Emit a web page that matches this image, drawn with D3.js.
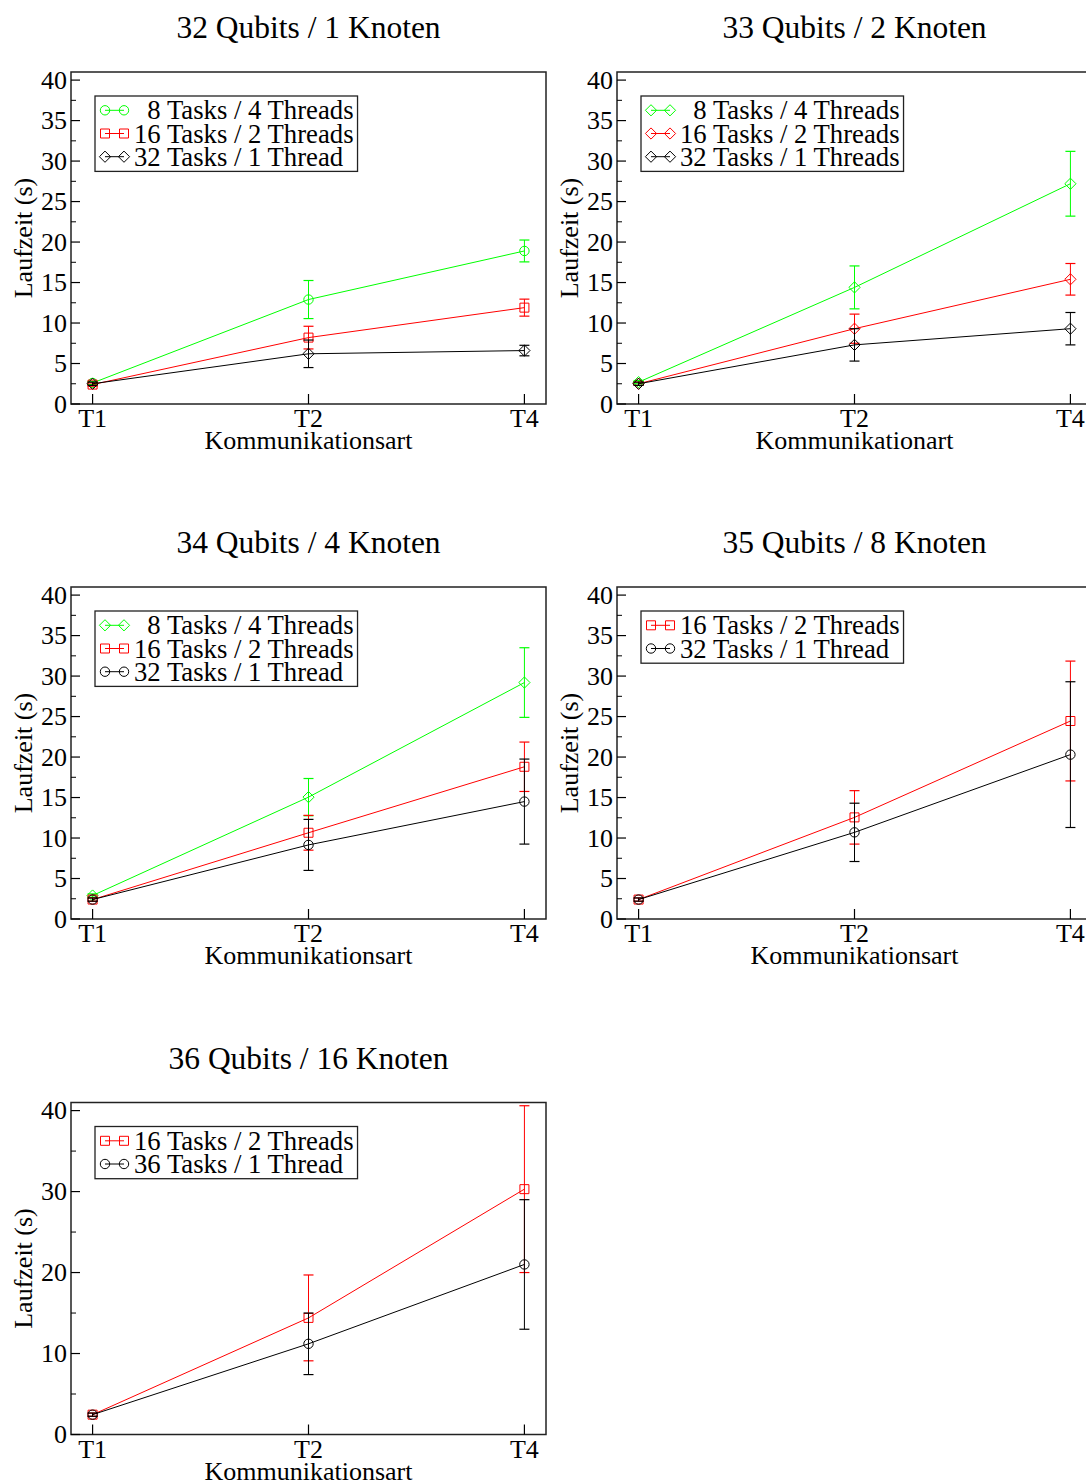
<!DOCTYPE html>
<html><head><meta charset="utf-8">
<script src="https://cdn.jsdelivr.net/npm/d3@7"></script>
<style>
body{margin:0;background:#fff}
svg{display:block}
text{font-family:"Liberation Serif","Times New Roman",serif;fill:#000}
</style>
</head><body><svg id="c" width="1086" height="1483"></svg>
<script>
// ---------- data ----------
const categories = ["T1", "T2", "T4"];
const panelTitles = ["32 Qubits / 1 Knoten", "33 Qubits / 2 Knoten", "34 Qubits / 4 Knoten", "35 Qubits / 8 Knoten", "36 Qubits / 16 Knoten"];
const xAxisTitles = ["Kommunikationsart", "Kommunikationart", "Kommunikationsart", "Kommunikationsart", "Kommunikationsart"];
const yAxisTitle = "Laufzeit (s)";
const yTicksBy5 = [0, 5, 10, 15, 20, 25, 30, 35, 40];
const yTicksBy10 = [0, 10, 20, 30, 40];

// Panel 1: 32 Qubits / 1 Knoten
const p1Labels = ["\u00a0\u00a08 Tasks / 4 Threads", "16 Tasks / 2 Threads", "32 Tasks / 1 Thread"];
const p1Green = [2.6, 12.9, 18.9];
const p1GreenErr = [0.2, 2.35, 1.35];
const p1Red = [2.4, 8.2, 11.9];
const p1RedErr = [0.2, 1.4, 1.05];
const p1Black = [2.5, 6.2, 6.6];
const p1BlackErr = [0.2, 1.7, 0.65];

// Panel 2: 33 Qubits / 2 Knoten
const p2Labels = ["\u00a0\u00a08 Tasks / 4 Threads", "16 Tasks / 2 Threads", "32 Tasks / 1 Threads"];
const p2Green = [2.7, 14.4, 27.2];
const p2GreenErr = [0.2, 2.65, 4.0];
const p2Red = [2.5, 9.3, 15.4];
const p2RedErr = [0.2, 1.8, 1.95];
const p2Black = [2.5, 7.3, 9.3];
const p2BlackErr = [0.2, 2.0, 2.0];

// Panel 3: 34 Qubits / 4 Knoten
const p3Labels = ["\u00a0\u00a08 Tasks / 4 Threads", "16 Tasks / 2 Threads", "32 Tasks / 1 Thread"];
const p3Green = [2.9, 15.05, 29.2];
const p3GreenErr = [0.2, 2.3, 4.3];
const p3Red = [2.4, 10.65, 18.8];
const p3RedErr = [0.2, 2.15, 3.05];
const p3Black = [2.4, 9.15, 14.5];
const p3BlackErr = [0.2, 3.15, 5.25];

// Panel 4: 35 Qubits / 8 Knoten
const p4Labels = ["16 Tasks / 2 Threads", "32 Tasks / 1 Thread"];
const p4Red = [2.4, 12.55, 24.45];
const p4RedErr = [0.2, 3.3, 7.4];
const p4Black = [2.4, 10.7, 20.3];
const p4BlackErr = [0.2, 3.6, 9.0];

// Panel 5: 36 Qubits / 16 Knoten
const p5Labels = ["16 Tasks / 2 Threads", "36 Tasks / 1 Thread"];
const p5Red = [2.45, 14.4, 30.3];
const p5RedErr = [0.2, 5.3, 10.3];
const p5Black = [2.45, 11.2, 21.0];
const p5BlackErr = [0.2, 3.8, 8.0];

// ---------- config built from data ----------
const GREEN = "#00ff00", RED = "#ff0000", BLACK = "#000000";
const panels = [
  {title: panelTitles[0], xt: xAxisTitles[0], ticks: yTicksBy5, minorStep: 2.5,
   series: [
     {name: p1Labels[0], v: p1Green, e: p1GreenErr, c: GREEN, s: "circle"},
     {name: p1Labels[1], v: p1Red, e: p1RedErr, c: RED, s: "square"},
     {name: p1Labels[2], v: p1Black, e: p1BlackErr, c: BLACK, s: "diamond"}]},
  {title: panelTitles[1], xt: xAxisTitles[1], ticks: yTicksBy5, minorStep: 2.5,
   series: [
     {name: p2Labels[0], v: p2Green, e: p2GreenErr, c: GREEN, s: "diamond"},
     {name: p2Labels[1], v: p2Red, e: p2RedErr, c: RED, s: "diamond"},
     {name: p2Labels[2], v: p2Black, e: p2BlackErr, c: BLACK, s: "diamond"}]},
  {title: panelTitles[2], xt: xAxisTitles[2], ticks: yTicksBy5, minorStep: 2.5,
   series: [
     {name: p3Labels[0], v: p3Green, e: p3GreenErr, c: GREEN, s: "diamond"},
     {name: p3Labels[1], v: p3Red, e: p3RedErr, c: RED, s: "square"},
     {name: p3Labels[2], v: p3Black, e: p3BlackErr, c: BLACK, s: "circle"}]},
  {title: panelTitles[3], xt: xAxisTitles[3], ticks: yTicksBy5, minorStep: 2.5,
   series: [
     {name: p4Labels[0], v: p4Red, e: p4RedErr, c: RED, s: "square"},
     {name: p4Labels[1], v: p4Black, e: p4BlackErr, c: BLACK, s: "circle"}]},
  {title: panelTitles[4], xt: xAxisTitles[4], ticks: yTicksBy10, minorStep: 5,
   series: [
     {name: p5Labels[0], v: p5Red, e: p5RedErr, c: RED, s: "square"},
     {name: p5Labels[1], v: p5Black, e: p5BlackErr, c: BLACK, s: "circle"}]}
];

// ---------- layout ----------
const colLeft = [71, 617];
const rowTop = [72, 587, 1102.5];
const frameW = 475, frameH = 332;
const FS = 26, LFS = 26.7;

const svg = d3.select("#c");

function markerPath(shape) {
  if (shape === "circle") return d3.symbol().type(d3.symbolCircle).size(Math.PI * 4.7 * 4.7)();
  if (shape === "square") return "M-4.5,-4.5H4.5V4.5H-4.5Z";
  return "M0,-5.6L5.6,0L0,5.6L-5.6,0Z";
}

panels.forEach((p, i) => {
  const L = colLeft[i % 2], T = rowTop[Math.floor(i / 2)];
  const g = svg.append("g").attr("transform", `translate(${L},${T})`);
  const x = d3.scalePoint().domain(categories).range([0, frameW]).padding(0.1);
  const y = d3.scaleLinear().domain([0, 41]).range([frameH, 0]);

  // frame
  g.append("rect").attr("x", 0).attr("y", 0).attr("width", frameW).attr("height", frameH)
    .attr("fill", "none").attr("stroke", "#222").attr("stroke-width", 1.5);

  // y ticks (inward)
  const minor = d3.range(0, 40.001, p.minorStep).filter(t => !p.ticks.includes(t));
  g.selectAll(".ymin").data(minor).join("line")
    .attr("x1", 0).attr("x2", 5).attr("y1", d => y(d)).attr("y2", d => y(d))
    .attr("stroke", "#000").attr("stroke-width", 1);
  g.selectAll(".ymaj").data(p.ticks).join("line")
    .attr("x1", 0).attr("x2", 9).attr("y1", d => y(d)).attr("y2", d => y(d))
    .attr("stroke", "#000").attr("stroke-width", 1.2);
  g.selectAll(".ylab").data(p.ticks).join("text")
    .attr("x", -4).attr("y", d => y(d)).attr("dy", "0.34em")
    .attr("text-anchor", "end").attr("font-size", FS).text(d => d);

  // x ticks (inward)
  g.selectAll(".xmaj").data(categories).join("line")
    .attr("x1", d => x(d)).attr("x2", d => x(d)).attr("y1", frameH).attr("y2", frameH - 10)
    .attr("stroke", "#000").attr("stroke-width", 1.2);
  g.selectAll(".xlab").data(categories).join("text")
    .attr("x", d => x(d)).attr("y", frameH + 23)
    .attr("text-anchor", "middle").attr("font-size", FS).text(d => d);

  // axis titles
  g.append("text").attr("x", frameW / 2).attr("y", frameH + 45)
    .attr("text-anchor", "middle").attr("font-size", FS).text(p.xt);
  g.append("text").attr("transform", `translate(-39,${frameH / 2}) rotate(-90)`)
    .attr("text-anchor", "middle").attr("font-size", FS).text(yAxisTitle);

  // panel title
  g.append("text").attr("x", frameW / 2).attr("y", -34)
    .attr("text-anchor", "middle").attr("font-size", 31.5).text(p.title);

  // series
  p.series.forEach(s => {
    const pts = categories.map((c, k) => ({c, v: s.v[k], e: s.e[k]}));
    const sg = g.append("g");
    sg.append("path").datum(pts)
      .attr("d", d3.line().x(d => x(d.c)).y(d => y(d.v)))
      .attr("fill", "none").attr("stroke", s.c).attr("stroke-width", 1);
    const eb = sg.selectAll(".eb").data(pts).join("g");
    eb.append("line").attr("x1", d => x(d.c)).attr("x2", d => x(d.c))
      .attr("y1", d => y(d.v - d.e)).attr("y2", d => y(d.v + d.e))
      .attr("stroke", s.c).attr("stroke-width", 1);
    [-1, 1].forEach(sign => {
      eb.append("line").attr("x1", d => x(d.c) - 5).attr("x2", d => x(d.c) + 5)
        .attr("y1", d => y(d.v + sign * d.e)).attr("y2", d => y(d.v + sign * d.e))
        .attr("stroke", s.c).attr("stroke-width", 1.2);
    });
    sg.selectAll(".mk").data(pts).join("path")
      .attr("transform", d => `translate(${x(d.c)},${y(d.v)})`)
      .attr("d", markerPath(s.s)).attr("fill", "none").attr("stroke", s.c).attr("stroke-width", 1);
  });

  // legend
  const lg = g.append("g").attr("transform", "translate(24,24)");
  const box = lg.append("rect").attr("x", 0).attr("y", 0).attr("fill", "#fff")
    .attr("stroke", "#222").attr("stroke-width", 1.3);
  let maxW = 0;
  p.series.forEach((s, k) => {
    const base = 23.3 + k * 23.2, cy = base - 9;
    lg.append("line").attr("x1", 10).attr("x2", 29).attr("y1", cy).attr("y2", cy)
      .attr("stroke", s.c).attr("stroke-width", 1);
    [10, 29].forEach(mx => lg.append("path").attr("transform", `translate(${mx},${cy})`)
      .attr("d", markerPath(s.s)).attr("fill", "none").attr("stroke", s.c).attr("stroke-width", 1));
    const t = lg.append("text").attr("x", 39).attr("y", base).attr("font-size", LFS)
      .style("white-space", "pre").text(s.name);
    maxW = Math.max(maxW, t.node().getComputedTextLength());
  });
  box.attr("width", 39 + maxW + 4).attr("height", 23.3 + (p.series.length - 1) * 23.2 + 5.7);
});
</script></body></html>
